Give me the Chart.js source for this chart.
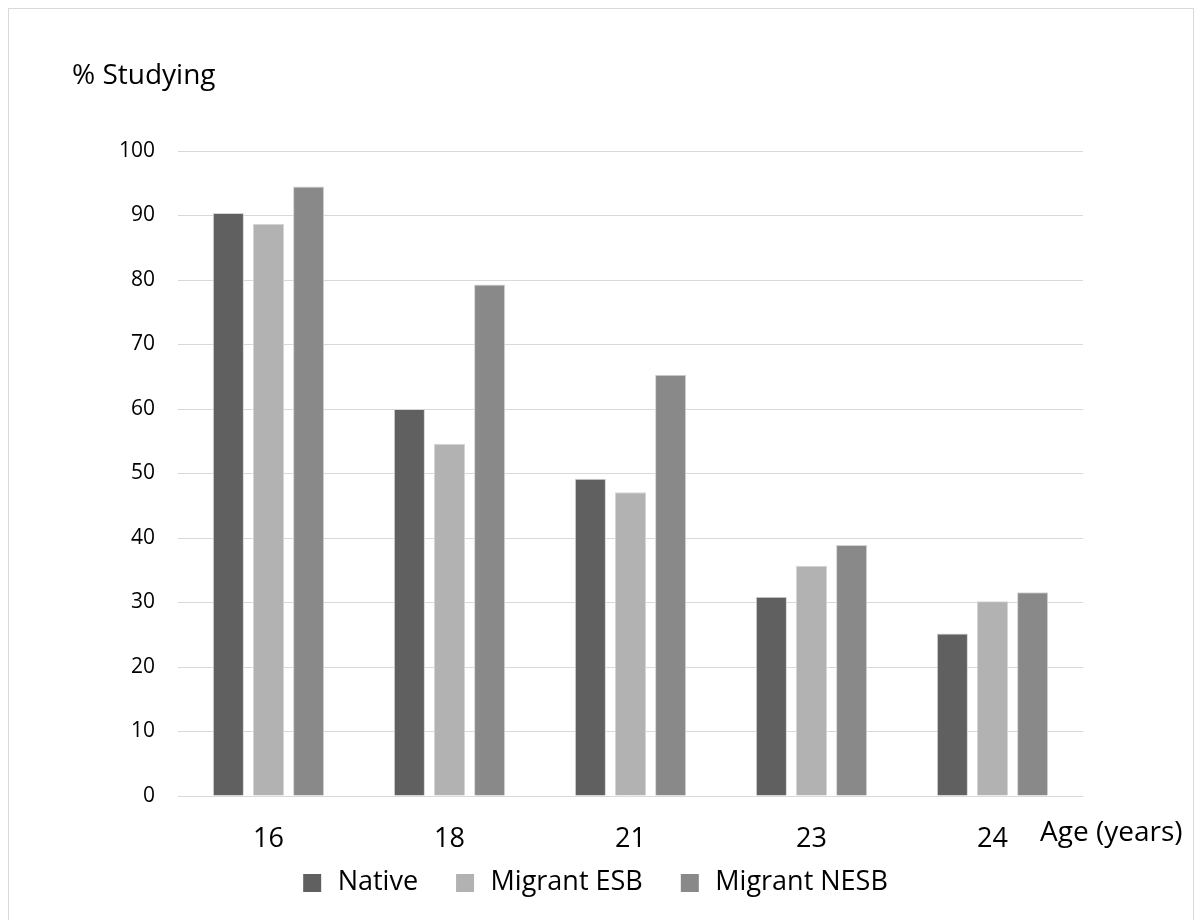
<!DOCTYPE html>
<html>
<head>
<meta charset="utf-8">
<script src="https://cdn.jsdelivr.net/npm/chart.js@4"></script>
<style>
  body { margin: 0; background: #fff; }
  #wrap { position: relative; width: 1196px; height: 920px; overflow: hidden; }
  #frame { position: absolute; left: 8px; top: 8px; width: 1186px; height: 930px; border: 1px solid #d9d9d9; box-sizing: border-box; }
  #studyChart { position: absolute; left: 0; top: 0; }
</style>
</head>
<body>
<div id="wrap">
  <div id="frame"></div>
  <canvas id="studyChart" width="1196" height="920"></canvas>
</div>
<script>
const ages = ['16', '18', '21', '23', '24'];
const nativeValues = [90.4, 60.0, 49.2, 30.9, 25.2];
const esbValues = [88.7, 54.6, 47.1, 35.7, 30.2];
const nesbValues = [94.5, 79.3, 65.3, 38.9, 31.6];
const yTicks = [0, 10, 20, 30, 40, 50, 60, 70, 80, 90, 100];
const yCaption = '% Studying';
const xCaption = 'Age (years)';

document.addEventListener('DOMContentLoaded', function() {

    const ctx = document.getElementById('studyChart');
    const textColor = '#000000';
    const font = '"Open Sans", sans-serif';

    // captions that sit outside the axes
    const captions = {
        id: 'captions',
        afterDraw(chart) {
            const c = chart.ctx;
            const area = chart.chartArea;
            c.save();
            c.fillStyle = textColor;
            c.textBaseline = 'alphabetic';
            c.textAlign = 'left';
            c.font = '28px ' + font;
            c.fillText(yCaption, area.left - 106, 84);
            c.fillText(xCaption, area.right - 43, area.bottom + 45);
            c.restore();
        }
    };

    // legend swatch: blank lead-in, square, small gap before the text
    function swatch(color) {
        const c = document.createElement('canvas');
        c.width = 44;
        c.height = 18;
        const g = c.getContext('2d');
        g.fillStyle = color;
        g.fillRect(23, 0, 18, 18);
        return c;
    }

    const barStyle = {
        borderWidth: 1,
        borderColor: '#d4d4d4',
        barPercentage: 0.775,
        categoryPercentage: 0.665
    };

    new Chart(ctx, {
        type: 'bar',
        data: {
            labels: ages,
            datasets: [
                Object.assign({ label: 'Native', data: nativeValues, backgroundColor: '#606060' }, barStyle),
                Object.assign({ label: 'Migrant ESB', data: esbValues, backgroundColor: '#b2b2b2' }, barStyle),
                Object.assign({ label: 'Migrant NESB', data: nesbValues, backgroundColor: '#898989' }, barStyle)
            ]
        },
        options: {
            responsive: false,
            animation: false,
            layout: {
                padding: { left: 85, right: 113, top: 151, bottom: 14 }
            },
            scales: {
                x: {
                    grid: { display: false, drawTicks: false },
                    border: { display: false },
                    ticks: {
                        color: textColor,
                        font: { family: font, size: 27 },
                        padding: 27
                    },
                    afterFit(scale) { scale.height = 58; }
                },
                y: {
                    min: 0,
                    max: 100,
                    afterBuildTicks(scale) {
                        scale.ticks = yTicks.map(v => ({ value: v }));
                    },
                    grid: { color: '#d9d9d9', lineWidth: 1, drawTicks: false },
                    border: { display: false },
                    ticks: {
                        color: textColor,
                        font: { family: font, size: 21 },
                        padding: 23
                    },
                    afterFit(scale) { scale.width = 93; }
                }
            },
            plugins: {
                legend: {
                    position: 'bottom',
                    labels: {
                        color: textColor,
                        font: { family: font, size: 27 },
                        usePointStyle: true,
                        pointStyleWidth: 44,
                        boxHeight: 18,
                        padding: 15,
                        generateLabels(chart) {
                            return chart.data.datasets.map((ds, i) => ({
                                text: ds.label,
                                fillStyle: ds.backgroundColor,
                                strokeStyle: ds.backgroundColor,
                                lineWidth: 0,
                                pointStyle: swatch(ds.backgroundColor),
                                fontColor: textColor,
                                hidden: false,
                                datasetIndex: i
                            }));
                        }
                    }
                },
                tooltip: { enabled: false }
            }
        },
        plugins: [captions]
    });
});
</script>
</body>
</html>
